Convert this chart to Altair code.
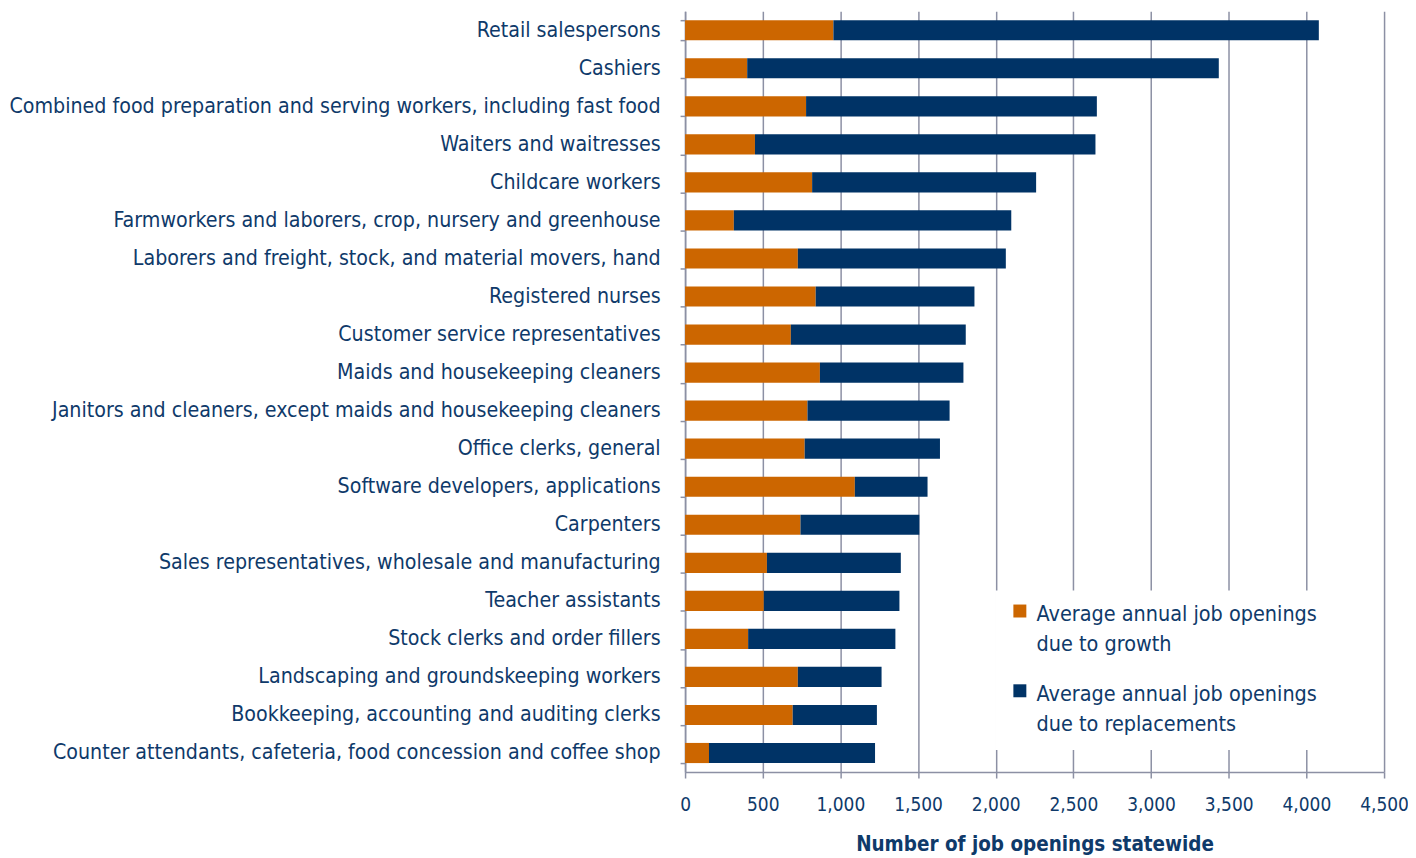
import altair as alt
import pandas as pd

categories = [
    "Retail salespersons",
    "Cashiers",
    "Combined food preparation and serving workers, including fast food",
    "Waiters and waitresses",
    "Childcare workers",
    "Farmworkers and laborers, crop, nursery and greenhouse",
    "Laborers and freight, stock, and material movers, hand",
    "Registered nurses",
    "Customer service representatives",
    "Maids and housekeeping cleaners",
    "Janitors and cleaners, except maids and housekeeping cleaners",
    "Office clerks, general",
    "Software developers, applications",
    "Carpenters",
    "Sales representatives, wholesale and manufacturing\u00a0",
    "Teacher assistants",
    "Stock clerks and order fillers",
    "Landscaping and groundskeeping workers",
    "Bookkeeping, accounting and auditing clerks",
    "Counter attendants, cafeteria, food concession and coffee shop",
]
growth = [955, 400, 779, 450, 818, 314, 726, 841, 681, 868,
          788, 770, 1093, 743, 527, 507, 406, 726, 693, 154]
replacements = [3125, 3036, 1872, 2192, 1442, 1786, 1339, 1022, 1126, 924,
                915, 871, 468, 765, 862, 873, 948, 539, 542, 1069]

series = ["Average annual job openings due to growth",
          "Average annual job openings due to replacements"]
colors = ["#CC6600", "#003366"]
x_ticks = [0, 500, 1000, 1500, 2000, 2500, 3000, 3500, 4000, 4500]

rows = []
for c, g, r in zip(categories, growth, replacements):
    rows.append({"occupation": c, "series": series[0], "value": g, "ord": 0})
    rows.append({"occupation": c, "series": series[1], "value": r, "ord": 1})
df = pd.DataFrame(rows)

FONT = "DejaVu Sans Condensed, Liberation Sans Narrow, sans-serif"
TXT = "#0f3a6a"
GRID = "#8c90a4"

chart = alt.Chart(df).mark_bar().encode(
    y=alt.Y("occupation:N", sort=categories, title=None,
            scale=alt.Scale(paddingInner=0.47, paddingOuter=0.235),
            axis=alt.Axis(tickBand="extent", ticks=True, tickSize=5,
                          tickColor=GRID, tickWidth=1.5,
                          domainColor=GRID, domainWidth=1.5,
                          labelFont=FONT, labelFontSize=21.3, labelColor=TXT,
                          labelPadding=20, labelLimit=900, grid=False)),
    x=alt.X("value:Q", stack="zero", title="Number of job openings statewide",
            scale=alt.Scale(domain=[0, 4500], nice=False),
            axis=alt.Axis(values=x_ticks, format=",d", grid=True,
                          gridColor=GRID, gridWidth=1.5,
                          tickSize=6, tickColor=GRID, tickWidth=1.5,
                          domainColor=GRID, domainWidth=1.5,
                          labelFont=FONT, labelFontSize=19, labelColor=TXT,
                          labelPadding=18, labelOverlap=False, labelBound=False,
                          labelFlush=False,
                          titleFont=FONT, titleFontSize=20.5, titleColor=TXT,
                          titleFontWeight="bold", titlePadding=20)),
    color=alt.Color("series:N", sort=series,
                    scale=alt.Scale(domain=series, range=colors),
                    legend=alt.Legend(
                        title=None, orient="none", legendX=311, legendY=581,
                        fillColor="white", padding=14,
                        symbolType="M-1,-1.65H1V0.35H-1Z", symbolSize=169,
                        symbolStrokeWidth=0, symbolOpacity=1,
                        labelFont=FONT, labelFontSize=21.5, labelColor=TXT,
                        labelLimit=500, labelOffset=6, rowPadding=27,
                        labelBaseline="middle",
                        labelExpr="[slice(datum.label, 0, 27), slice(datum.label, 28)]")),
    order=alt.Order("ord:Q"),
).properties(
    width=701, height=763,
    autosize=alt.AutoSizeParams(type="none"),
    padding={"left": 679, "top": 2, "right": 24, "bottom": 84},
).configure(
    style={"guide-label": {"lineHeight": 30}},
).configure_view(stroke=None)

chart.save("out.html", embed_options={"renderer": "svg", "actions": False})
